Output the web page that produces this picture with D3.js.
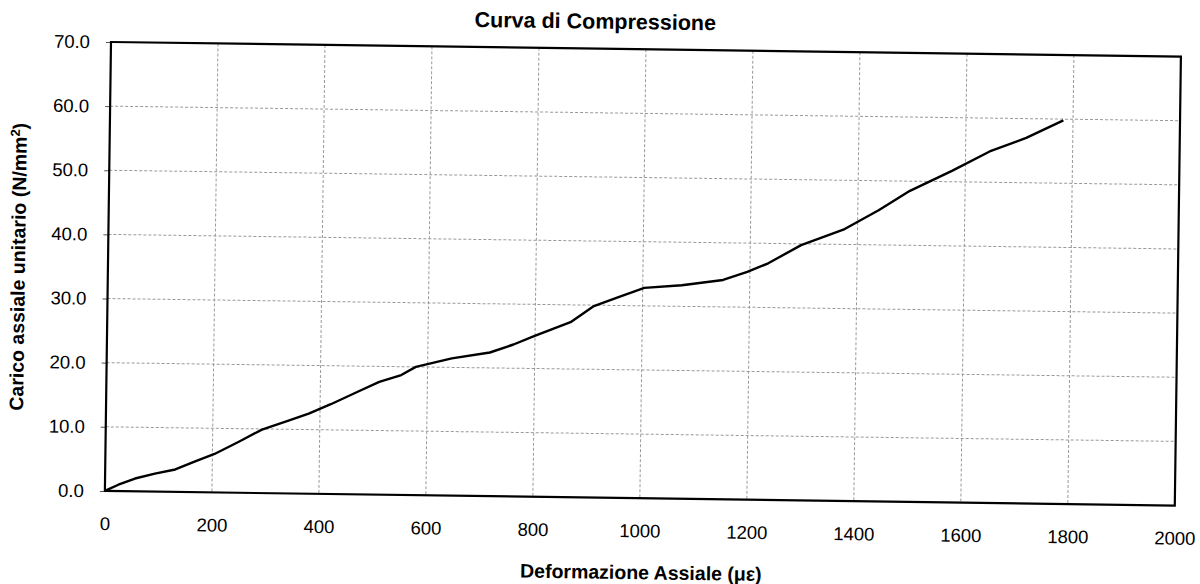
<!DOCTYPE html>
<html>
<head>
<meta charset="utf-8">
<script src="https://cdn.jsdelivr.net/npm/d3@7"></script>
<style>
  body { margin: 0; background: #fff; }
  text { font-family: "Liberation Sans", Arial, sans-serif; fill: #000; }
</style>
</head>
<body>
<div id="main"></div>
<script>

// datas

const strain = [0, 25, 56, 93, 131, 168, 204, 250, 292, 340, 379, 420, 470, 510, 551, 578, 645, 716, 760, 797, 866, 908, 955, 1003, 1073, 1150, 1195, 1234, 1295, 1376, 1439, 1497, 1575, 1645, 1713, 1782];
const stress = [0, 1.0, 2.0, 2.8, 3.5, 4.8, 6.0, 8.0, 9.9, 11.3, 12.5, 14.0, 16.0, 17.6, 18.7, 20.0, 21.4, 22.4, 23.7, 25.0, 27.3, 29.8, 31.3, 32.8, 33.3, 34.2, 35.5, 36.9, 39.8, 42.4, 45.4, 48.5, 51.7, 54.8, 57.0, 59.8];

const xTicks = [0, 200, 400, 600, 800, 1000, 1200, 1400, 1600, 1800, 2000];
const yTicks = [0, 10, 20, 30, 40, 50, 60, 70];

const chartTitle = 'Curva di Compressione';
const xTitle = 'Deformazione Assiale (\u03bc\u03b5)';

const w = 1200;
const h = 584;
const pw = 1070;
const ph = 449;

// svg (the scanned page is a little tilted)

const svg = d3.select('#main').append('svg').attr('width', w).attr('height', h);

const g = svg.append('g').attr('transform', 'translate(111,42) rotate(0.78)');

const x = d3.scaleLinear().domain([0, 2000]).range([0, pw]);
const y = d3.scaleLinear().domain([0, 70]).range([ph, 0]);

// grid

g.append('g').selectAll('line')
    .data(xTicks.slice(1, -1))
    .enter()
    .append('line')
    .attr('x1', d => x(d)).attr('x2', d => x(d))
    .attr('y1', 0).attr('y2', ph)
    .attr('stroke', '#999')
    .attr('stroke-width', 1)
    .attr('stroke-dasharray', '3,2');

g.append('g').selectAll('line')
    .data(yTicks.slice(1, -1))
    .enter()
    .append('line')
    .attr('x1', 0).attr('x2', pw)
    .attr('y1', d => y(d)).attr('y2', d => y(d))
    .attr('stroke', '#999')
    .attr('stroke-width', 1)
    .attr('stroke-dasharray', '3,2');

// axes

const yAxis = d3.axisLeft(y).tickValues(yTicks).tickFormat(d3.format('.1f')).tickSize(5).tickPadding(16);
const xAxis = d3.axisBottom(x).tickValues(xTicks).tickFormat(d3.format('d')).tickSize(0).tickPadding(26);

const ya = g.append('g').call(yAxis);
ya.select('.domain').remove();
ya.selectAll('line').attr('stroke', '#555');
ya.selectAll('text').style('font-size', '18.5px').style('font-family', '"Liberation Sans", Arial, sans-serif');

const xa = g.append('g').attr('transform', `translate(0,${ph})`).call(xAxis);
xa.select('.domain').remove();
xa.selectAll('text').style('font-size', '18.5px').style('font-family', '"Liberation Sans", Arial, sans-serif');

// frame

g.append('rect')
    .attr('x', 0).attr('y', 0)
    .attr('width', pw).attr('height', ph)
    .attr('fill', 'none')
    .attr('stroke', '#000')
    .attr('stroke-width', 2.2);

// curve

const line = d3.line()
    .x((d, i) => x(strain[i]))
    .y(d => y(d));

g.append('path')
    .datum(stress)
    .attr('fill', 'none')
    .attr('stroke', '#000')
    .attr('stroke-width', 2.4)
    .attr('stroke-linejoin', 'round')
    .attr('d', line);

// titles

g.append('text')
    .attr('x', 484).attr('y', -20)
    .attr('text-anchor', 'middle')
    .attr('font-size', 21.5)
    .attr('font-weight', 'bold')
    .text(chartTitle);

g.append('text')
    .attr('x', 537).attr('y', 530)
    .attr('text-anchor', 'middle')
    .attr('font-size', 19.5)
    .attr('font-weight', 'bold')
    .text(xTitle);

const yt = g.append('text')
    .attr('transform', `translate(-83,226) rotate(-90)`)
    .attr('text-anchor', 'middle')
    .attr('font-size', 19.5)
    .attr('font-weight', 'bold');
yt.append('tspan').text('Carico assiale unitario (N/mm');
yt.append('tspan').attr('font-size', 13).attr('dy', -7).text('2');
yt.append('tspan').attr('dy', 7).text(')');

</script>
</body>
</html>
